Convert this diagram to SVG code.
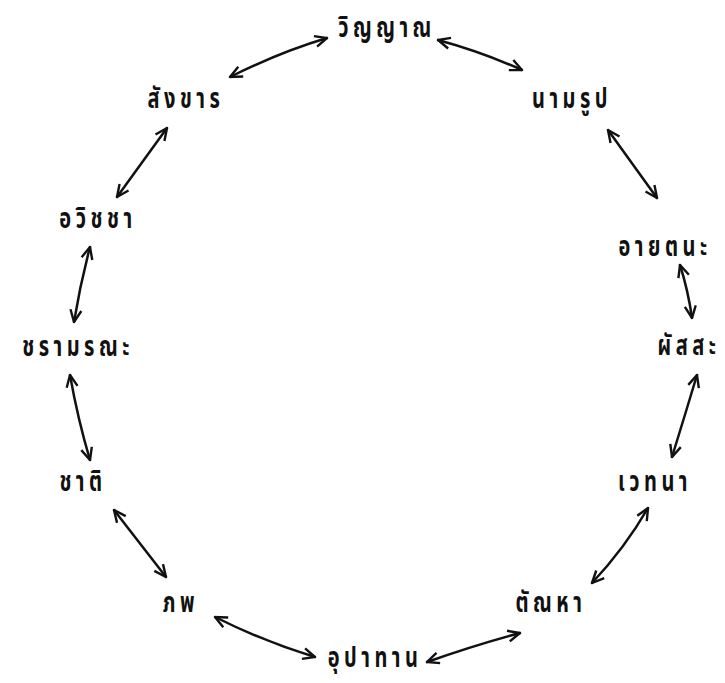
<svg xmlns="http://www.w3.org/2000/svg" width="725" height="683" viewBox="0 0 725 683">
<defs>
<marker id="ah" viewBox="0 0 14 14" refX="13" refY="7" markerWidth="14" markerHeight="14" markerUnits="userSpaceOnUse" orient="auto-start-reverse">
<path d="M1,1.5 L13,7 L1,12.5" fill="none" stroke="#111" stroke-width="2.4" stroke-linejoin="miter"/>
</marker>
<style>
.lbl{font-family:"Noto Sans Thai","Noto Sans","DejaVu Sans",sans-serif;font-size:20px;font-weight:bold;fill:#111;text-anchor:middle;letter-spacing:4.5px}
.arr{fill:none;stroke:#111;stroke-width:2.5;stroke-linecap:round;marker-start:url(#ah);marker-end:url(#ah)}
</style>
</defs>
<rect width="725" height="683" fill="#fff"/>
<g id="connectors">
<path class="arr" d="M230,77 Q280,52 327,38"/>
<path class="arr" d="M438,40 Q482,52 522,70"/>
<path class="arr" d="M167,128 L117,197"/>
<path class="arr" d="M608,130 L657,198"/>
<path class="arr" d="M90,247 Q80,285 74,322"/>
<path class="arr" d="M70,375 Q78,420 90,460"/>
<path class="arr" d="M114,510 L166,577"/>
<path class="arr" d="M215,617 Q265,642 315,657"/>
<path class="arr" d="M427,662 Q475,645 520,633"/>
<path class="arr" d="M592,583 Q625,548 648,508"/>
<path class="arr" d="M697,375 Q685,415 672,457"/>
<path class="arr" d="M680,265 Q688,290 692,318"/>
</g>
<g id="n-winyan" transform="translate(387,37) scale(1,1.45)"><text class="lbl">วิญญาณ</text></g>
<g id="n-namarup" transform="translate(572,108) scale(1,1.45)"><text class="lbl">นามรูป</text></g>
<g id="n-ayatana" transform="translate(665,256) scale(1,1.45)"><text class="lbl">อายตนะ</text></g>
<g id="n-phassa" transform="translate(689,355) scale(1,1.45)"><text class="lbl">ผัสสะ</text></g>
<g id="n-wedana" transform="translate(655,491) scale(1,1.45)"><text class="lbl">เวทนา</text></g>
<g id="n-tanha" transform="translate(551,612) scale(1,1.45)"><text class="lbl">ตัณหา</text></g>
<g id="n-upadan" transform="translate(375,667) scale(1,1.45)"><text class="lbl">อุปาทาน</text></g>
<g id="n-phop" transform="translate(181,612) scale(1,1.45)"><text class="lbl">ภพ</text></g>
<g id="n-chat" transform="translate(83,491) scale(1,1.45)"><text class="lbl">ชาติ</text></g>
<g id="n-chara" transform="translate(78,356) scale(1,1.45)"><text class="lbl">ชรามรณะ</text></g>
<g id="n-awitcha" transform="translate(98,228) scale(1,1.45)"><text class="lbl">อวิชชา</text></g>
<g id="n-sangkhan" transform="translate(186,108) scale(1,1.45)"><text class="lbl">สังขาร</text></g>
</svg>
